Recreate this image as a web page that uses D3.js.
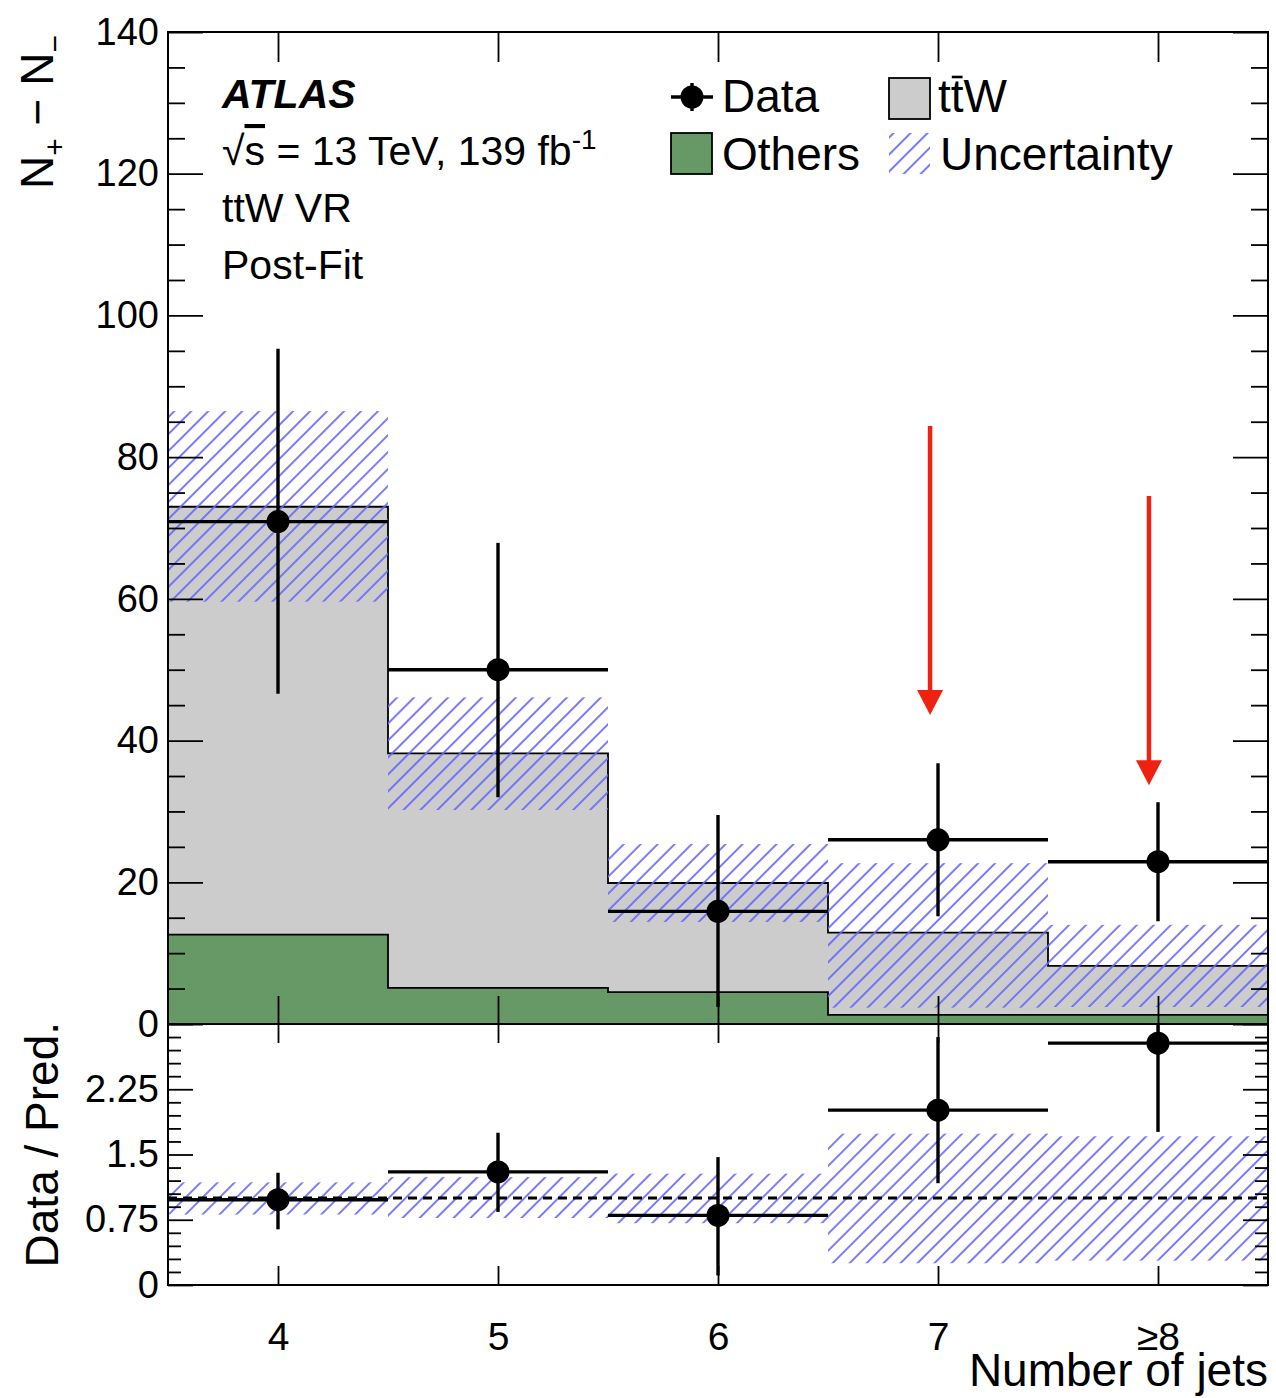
<!DOCTYPE html>
<html>
<head>
<meta charset="utf-8">
<script src="https://cdn.jsdelivr.net/npm/d3@7"></script>
<style>
  body { margin: 0; background: #fff; }
  svg text { font-family: "Liberation Sans", Arial, Helvetica, sans-serif; fill: #000; }
</style>
</head>
<body>
<svg id="chart"></svg>
<script>
// Bins (number of jets)
const binEdges = [3.5, 4.5, 5.5, 6.5, 7.5, 8.5];
const binCenters = [4, 5, 6, 7, 8];
const binLabels = ["4", "5", "6", "7", "\u22658"];

// Main panel: N+ - N-
const othersVal = [12.6, 5.1, 4.5, 1.3, 1.3];
const ttwTotal = [73.0, 38.2, 19.9, 12.9, 8.2];
const bandHi = [86.5, 46.1, 25.4, 22.7, 14.0];
const bandLo = [59.6, 30.2, 14.4, 2.3, 2.4];
const dataVal = [70.9, 50.0, 15.9, 26.0, 22.9];
const dataHi = [95.3, 67.9, 29.5, 36.8, 31.3];
const dataLo = [46.6, 32.0, 2.4, 15.2, 14.5];

// Ratio panel: Data / Pred.
const ratioVal = [0.98, 1.30, 0.80, 2.01, 2.78];
const ratioHi = [1.29, 1.75, 1.47, 2.85, 3.6];
const ratioLo = [0.64, 0.84, 0.11, 1.17, 1.76];
const ratioBandHi = [1.18, 1.24, 1.28, 1.74, 1.71];
const ratioBandLo = [0.81, 0.77, 0.71, 0.25, 0.28];

// Red arrows (annotation)
const arrowX = [6.964, 7.959];
const arrowTop = [84.4, 74.5];
const arrowTip = [43.6, 33.7];

// Axis ticks
const mainMajor = d3.range(0, 141, 20);
const mainMinor = d3.range(0, 141, 5).filter(v => v % 20 !== 0);
const ratioMajor = [0, 0.75, 1.5, 2.25, 3];
const ratioMinor = d3.range(0, 21).filter(i => i % 5 !== 0).map(i => i * 0.15);

const W = 1276, H = 1398;
const padL = 168, padR = 1268, padT = 32, mainBottom = 1024, ratioBottom = 1285;

const svg = d3.select("#chart").attr("width", W).attr("height", H);

const x = d3.scaleLinear().domain([3.5, 8.5]).range([padL, padR]);
const y = d3.scaleLinear().domain([0, 140]).range([mainBottom, padT]);
const yr = d3.scaleLinear().domain([0, 3]).range([ratioBottom, mainBottom]);

const hatchColor = "rgb(100,100,255)";
const grayFill = "#cccccc";
const greenFill = "#669966";

// Defs: hatch pattern + clips
const defs = svg.append("defs");
const pat = defs.append("pattern")
    .attr("id", "hatch")
    .attr("patternUnits", "userSpaceOnUse")
    .attr("width", 12).attr("height", 12)
    .attr("patternTransform", "rotate(45)");
pat.append("line")
    .attr("x1", 6).attr("y1", 0).attr("x2", 6).attr("y2", 12)
    .attr("stroke", hatchColor).attr("stroke-width", 1.7);

defs.append("clipPath").attr("id", "clipMain")
    .append("rect").attr("x", padL).attr("y", padT).attr("width", padR - padL).attr("height", mainBottom - padT);
defs.append("clipPath").attr("id", "clipRatio")
    .append("rect").attr("x", padL).attr("y", mainBottom).attr("width", padR - padL).attr("height", ratioBottom - mainBottom);

// ---------- Main panel ----------
const main = svg.append("g").attr("clip-path", "url(#clipMain)");

const stepData = vals => binEdges.map((e, i) => ({ e, v: vals[Math.min(i, vals.length - 1)] }));

const area = d3.area().curve(d3.curveStepAfter)
    .x(d => x(d.e)).y0(y(0)).y1(d => y(d.v));
const line = d3.line().curve(d3.curveStepAfter)
    .x(d => x(d.e)).y(d => y(d.v));

main.append("path").attr("d", area(stepData(ttwTotal))).attr("fill", grayFill);
main.append("path").attr("d", area(stepData(othersVal))).attr("fill", greenFill);
main.append("path").attr("d", line(stepData(ttwTotal))).attr("fill", "none").attr("stroke", "#000").attr("stroke-width", 1.8);
main.append("path").attr("d", line(stepData(othersVal))).attr("fill", "none").attr("stroke", "#000").attr("stroke-width", 1.8);

// Uncertainty band
main.selectAll("rect.band").data(binCenters).enter().append("rect")
    .attr("class", "band")
    .attr("x", (d, i) => x(binEdges[i]))
    .attr("width", (d, i) => x(binEdges[i + 1]) - x(binEdges[i]))
    .attr("y", (d, i) => y(bandHi[i]))
    .attr("height", (d, i) => y(bandLo[i]) - y(bandHi[i]))
    .attr("fill", "url(#hatch)");

// Data points
function drawPoints(g, ys, vals, his, los) {
    binCenters.forEach((c, i) => {
        g.append("line")
            .attr("x1", x(binEdges[i])).attr("x2", x(binEdges[i + 1]))
            .attr("y1", ys(vals[i])).attr("y2", ys(vals[i]))
            .attr("stroke", "#000").attr("stroke-width", 3.4);
        g.append("line")
            .attr("x1", x(c)).attr("x2", x(c))
            .attr("y1", ys(his[i])).attr("y2", ys(los[i]))
            .attr("stroke", "#000").attr("stroke-width", 3.4);
        g.append("circle")
            .attr("cx", x(c)).attr("cy", ys(vals[i])).attr("r", 11.5)
            .attr("fill", "#000");
    });
}
drawPoints(main, y, dataVal, dataHi, dataLo);

// Red arrows
arrowX.forEach((ax, i) => {
    const px = x(ax), y0 = y(arrowTop[i]), y1 = y(arrowTip[i]);
    main.append("line")
        .attr("x1", px).attr("x2", px).attr("y1", y0).attr("y2", y1 - 24)
        .attr("stroke", "#ee2211").attr("stroke-width", 4.5);
    main.append("path")
        .attr("d", `M${px - 13},${y1 - 25}L${px + 13},${y1 - 25}L${px},${y1}Z`)
        .attr("fill", "#ee2211");
});

// ---------- Ratio panel ----------
const ratio = svg.append("g").attr("clip-path", "url(#clipRatio)");

ratio.selectAll("rect.rband").data(binCenters).enter().append("rect")
    .attr("class", "rband")
    .attr("x", (d, i) => x(binEdges[i]))
    .attr("width", (d, i) => x(binEdges[i + 1]) - x(binEdges[i]))
    .attr("y", (d, i) => yr(ratioBandHi[i]))
    .attr("height", (d, i) => yr(ratioBandLo[i]) - yr(ratioBandHi[i]))
    .attr("fill", "url(#hatch)");

ratio.append("line")
    .attr("x1", padL).attr("x2", padR).attr("y1", yr(1)).attr("y2", yr(1))
    .attr("stroke", "#000").attr("stroke-width", 3.2).attr("stroke-dasharray", "9,6");

drawPoints(ratio, yr, ratioVal, ratioHi, ratioLo);

// ---------- Axes ----------
function styleAxis(g, fs) {
    g.select(".domain").remove();
    g.selectAll(".tick line").attr("stroke", "#000").attr("stroke-width", 1.8);
    g.selectAll(".tick text").attr("font-size", fs).attr("font-family", "Liberation Sans, Arial, sans-serif").attr("fill", "#000");
}

// main y axis
svg.append("g").attr("transform", `translate(${padL},0)`)
    .call(d3.axisLeft(y).tickValues(mainMajor).tickSize(-35).tickPadding(9).tickFormat(d3.format("d")))
    .call(g => styleAxis(g, 38));
svg.append("g").attr("transform", `translate(${padL},0)`)
    .call(d3.axisLeft(y).tickValues(mainMinor).tickSize(-17).tickFormat(""))
    .call(g => styleAxis(g, 38));
svg.append("g").attr("transform", `translate(${padR},0)`)
    .call(d3.axisRight(y).tickValues(mainMajor).tickSize(-35).tickFormat(""))
    .call(g => styleAxis(g, 38));
svg.append("g").attr("transform", `translate(${padR},0)`)
    .call(d3.axisRight(y).tickValues(mainMinor).tickSize(-17).tickFormat(""))
    .call(g => styleAxis(g, 38));

// ratio y axis
svg.append("g").attr("transform", `translate(${padL},0)`)
    .call(d3.axisLeft(yr).tickValues(ratioMajor).tickSize(-25).tickPadding(9).tickFormat(d => d === 3 ? "" : String(d)))
    .call(g => styleAxis(g, 38));
svg.append("g").attr("transform", `translate(${padL},0)`)
    .call(d3.axisLeft(yr).tickValues(ratioMinor).tickSize(-13).tickFormat(""))
    .call(g => styleAxis(g, 38));
svg.append("g").attr("transform", `translate(${padR},0)`)
    .call(d3.axisRight(yr).tickValues(ratioMajor).tickSize(-25).tickFormat(""))
    .call(g => styleAxis(g, 38));
svg.append("g").attr("transform", `translate(${padR},0)`)
    .call(d3.axisRight(yr).tickValues(ratioMinor).tickSize(-13).tickFormat(""))
    .call(g => styleAxis(g, 38));

// x axes
svg.append("g").attr("transform", `translate(0,${padT})`)
    .call(d3.axisTop(x).tickValues(binCenters).tickSize(-30).tickFormat(""))
    .call(g => styleAxis(g, 38));
svg.append("g").attr("transform", `translate(0,${mainBottom})`)
    .call(d3.axisBottom(x).tickValues(binCenters).tickSize(-28).tickFormat(""))
    .call(g => styleAxis(g, 38));
svg.append("g").attr("transform", `translate(0,${mainBottom})`)
    .call(d3.axisTop(x).tickValues(binCenters).tickSize(-19).tickFormat(""))
    .call(g => styleAxis(g, 38));
svg.append("g").attr("transform", `translate(0,${ratioBottom})`)
    .call(d3.axisBottom(x).tickValues(binCenters).tickSize(-19).tickPadding(37).tickFormat((d, i) => binLabels[i]))
    .call(g => styleAxis(g, 39));

// frames
svg.append("rect").attr("x", padL).attr("y", padT).attr("width", padR - padL).attr("height", ratioBottom - padT)
    .attr("fill", "none").attr("stroke", "#000").attr("stroke-width", 2);
svg.append("line").attr("x1", padL).attr("x2", padR).attr("y1", mainBottom).attr("y2", mainBottom)
    .attr("stroke", "#000").attr("stroke-width", 2);

// ---------- Titles ----------
const yt = svg.append("text").attr("transform", `translate(53,${padT + 3}) rotate(-90)`)
    .attr("text-anchor", "end").attr("font-size", 46);
yt.append("tspan").text("N");
yt.append("tspan").attr("font-size", 30).attr("dy", 12).text("+");
yt.append("tspan").attr("dy", -12).text(" \u2212 N");
yt.append("tspan").attr("font-size", 30).attr("dy", 12).text("\u2212");

svg.append("text").attr("transform", `translate(58,${mainBottom - 2}) rotate(-90)`)
    .attr("text-anchor", "end").attr("font-size", 46).text("Data / Pred.");

svg.append("text").attr("x", padR).attr("y", 1386).attr("text-anchor", "end")
    .attr("font-size", 46).text("Number of jets");

// ---------- ATLAS label ----------
svg.append("text").attr("x", 222).attr("y", 108).attr("font-size", 41)
    .attr("font-weight", "bold").attr("font-style", "italic").text("ATLAS");
const en = svg.append("text").attr("x", 222).attr("y", 165).attr("font-size", 41);
en.append("tspan").text("\u221A");
en.append("tspan").style("text-decoration", "overline").text("s");
en.append("tspan").text(" = 13 TeV, 139 fb");
en.append("tspan").attr("font-size", 28).attr("dy", -16).text("-1");
svg.append("text").attr("x", 222).attr("y", 222).attr("font-size", 41).text("ttW VR");
svg.append("text").attr("x", 222).attr("y", 279).attr("font-size", 41).text("Post-Fit");

// ---------- Legend ----------
const lg = svg.append("g");
// Data
lg.append("line").attr("x1", 671).attr("x2", 713).attr("y1", 97).attr("y2", 97).attr("stroke", "#000").attr("stroke-width", 3.4);
lg.append("line").attr("x1", 692).attr("x2", 692).attr("y1", 83).attr("y2", 111).attr("stroke", "#000").attr("stroke-width", 3.4);
lg.append("circle").attr("cx", 692).attr("cy", 97).attr("r", 11.5).attr("fill", "#000");
lg.append("text").attr("x", 722).attr("y", 112).attr("font-size", 46).text("Data");
// Others
lg.append("rect").attr("x", 671).attr("y", 133).attr("width", 41).attr("height", 41)
    .attr("fill", greenFill).attr("stroke", "#000").attr("stroke-width", 1.8);
lg.append("text").attr("x", 722).attr("y", 170).attr("font-size", 46).text("Others");
// ttW (t t-bar W)
lg.append("rect").attr("x", 889).attr("y", 78).attr("width", 41).attr("height", 41)
    .attr("fill", grayFill).attr("stroke", "#000").attr("stroke-width", 1.8);
lg.append("text").attr("x", 938).attr("y", 112).attr("font-size", 46).text("ttW");
const tw = 0.278 * 46;
lg.append("line").attr("x1", 938 + tw + 1).attr("x2", 938 + 2 * tw - 1)
    .attr("y1", 77).attr("y2", 77).attr("stroke", "#000").attr("stroke-width", 2.6);
// Uncertainty
lg.append("rect").attr("x", 889).attr("y", 133).attr("width", 41).attr("height", 41).attr("fill", "url(#hatch)");
lg.append("text").attr("x", 940).attr("y", 170).attr("font-size", 46).text("Uncertainty");
</script>
</body>
</html>
